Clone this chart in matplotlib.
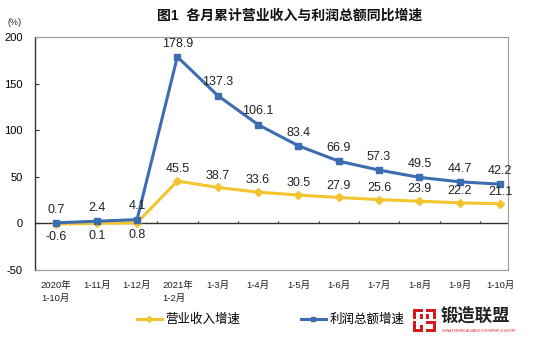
import numpy as np
import matplotlib
matplotlib.use('Agg')
import matplotlib.pyplot as plt
from matplotlib.lines import Line2D
from matplotlib.patches import Rectangle

plt.rcParams['font.family'] = ['Liberation Sans', 'Noto Sans CJK SC']
plt.rcParams['axes.unicode_minus'] = False

# 各月累计同比增速 (%)
months = ['2020年\n1-10月', '1-11月', '1-12月', '2021年\n1-2月', '1-3月', '1-4月',
          '1-5月', '1-6月', '1-7月', '1-8月', '1-9月', '1-10月']
revenue = [-0.6, 0.1, 0.8, 45.5, 38.7, 33.6, 30.5, 27.9, 25.6, 23.9, 22.2, 21.1]
profit = [0.7, 2.4, 4.1, 178.9, 137.3, 106.1, 83.4, 66.9, 57.3, 49.5, 44.7, 42.2]

c_rev = '#F4C430'
c_pro = '#3C6DB0'

fig = plt.figure(figsize=(5.36, 3.44), dpi=100)
ax = fig.add_axes([0.066, 0.215, 0.882, 0.677])
x = np.arange(len(months))

ax.plot(x, revenue, color=c_rev, lw=2.2, marker='D', ms=4, label='营业收入增速')
ax.plot(x, profit, color=c_pro, lw=2.2, marker='s', ms=4, label='利润总额增速')

# 数据标签：前三个月营业收入标在下方
for i in x:
    ax.annotate(f'{profit[i]:.1f}', (i, profit[i]), xytext=(0, 9.5), textcoords='offset points',
                ha='center', va='center', fontsize=9, color='#222222')
    dy = -9 if i < 3 else 8.5
    ax.annotate(f'{revenue[i]:.1f}', (i, revenue[i]), xytext=(0, dy), textcoords='offset points',
                ha='center', va='center', fontsize=9, color='#222222')

ax.set_xlim(-0.52, 11.2)
ax.set_ylim(-50, 200)
ax.set_yticks([-50, 0, 50, 100, 150, 200])
ax.tick_params(axis='y', direction='in', length=3, pad=9, labelsize=8, color='#333333')
ax.set_xticks([])

for s in ['top', 'right', 'bottom']:
    ax.spines[s].set_color('#9a9a9a')
    ax.spines[s].set_linewidth(0.8)
ax.spines['left'].set_color('#333333')
ax.spines['left'].set_linewidth(1.0)

# 零值横轴及分隔刻度
ax.axhline(0, color='#333333', lw=1.0, zorder=1)
ax.vlines(np.arange(len(months)) + 0.5, 0, 2.5, color='#333333', lw=0.8, zorder=1)

trans = ax.get_xaxis_transform()
for i, m in enumerate(months):
    ax.text(i, -0.045, m, transform=trans, ha='center', va='top', fontsize=6.8,
            multialignment='left', linespacing=1.6, color='#222222')

fig.text(0.54, 0.955, '图1  各月累计营业收入与利润总额同比增速', ha='center', va='center',
         fontsize=10, fontweight='bold', color='#111111')
fig.text(0.027, 0.935, '(%)', ha='center', va='center', fontsize=6.5, color='#222222')

handles = [Line2D([], [], color=c_rev, lw=2.2, marker='D', ms=3),
           Line2D([], [], color=c_pro, lw=2.2, marker='s', ms=3)]
fig.legend(handles, ['营业收入增速', '利润总额增速'], loc='center', bbox_to_anchor=(0.505, 0.07),
           ncol=2, frameon=False, fontsize=9, handlelength=2.0, handletextpad=0.3,
           columnspacing=4.8)

# 右下角标识
red = '#D7191C'
for (px, py, w, h) in [(413, 309, 10, 3), (413, 309, 3, 10), (420, 314, 3, 5), (413, 321, 3, 11),
                       (413, 329, 10, 3), (426, 309, 10, 3), (433, 309, 3, 10), (426, 314, 3, 5),
                       (426, 321, 10, 3), (433, 321, 3, 11), (426, 329, 10, 3), (420, 325, 3, 4)]:
    fig.patches.append(Rectangle((px / 536, 1 - (py + h) / 344), w / 536, h / 344,
                                 transform=fig.transFigure, color=red, lw=0))
fig.text(0.822, 0.085, '锻造联盟', ha='left', va='center', fontsize=12.5,
         fontweight='bold', color='#222222')
fig.text(0.825, 0.038, 'CHINA FORGING ALLIANCE FOR IMPORT & EXPORT', ha='left', va='center',
         fontsize=2.2, color=red)

fig.savefig('out.png', dpi=100)
